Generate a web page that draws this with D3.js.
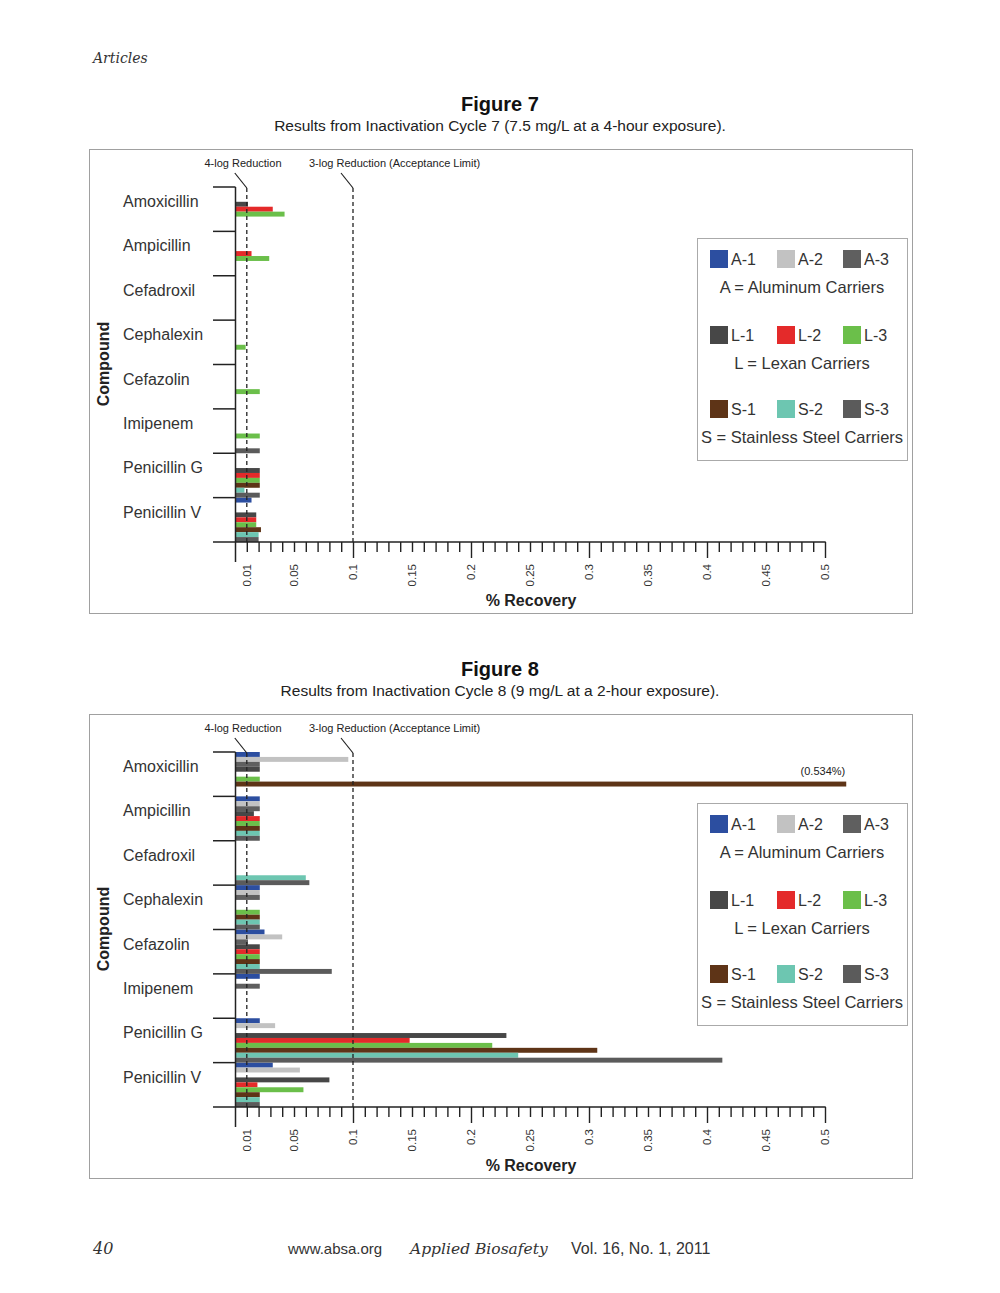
<!DOCTYPE html>
<html lang="en">
<head>
  <meta charset="UTF-8">
  <title>Figures 7 and 8 - % Recovery</title>
  <!--Import d3-->
  <script src="https://d3js.org/d3.v7.min.js"></script>
</head>
<style>
  body{
    margin:0;
    background:white;
  }
  .sans{
    font-family: "Liberation Sans", Arial, Helvetica, sans-serif;
  }
  .serif{
    font-family: "DejaVu Serif", "Liberation Serif", serif;
    font-style: italic;
  }
</style>
<body>
  <div id="page"></div>
</body>
<script>
// categories (top to bottom)
var compounds = ["Amoxicillin", "Ampicillin", "Cefadroxil", "Cephalexin",
                 "Cefazolin", "Imipenem", "Penicillin G", "Penicillin V"];

// series, in the order the bars are stacked inside a compound
var series = ["A-1", "A-2", "A-3", "L-1", "L-2", "L-3", "S-1", "S-2", "S-3"];
var seriesColours = ["#2c4ea0", "#c2c2c2", "#5f5f5f", "#474747", "#e42a2a",
                     "#6bbf4a", "#5e3417", "#6dc6b1", "#5b5b5b"];

// legend groups
var legendGroups = ["A = Aluminum Carriers", "L = Lexan Carriers", "S = Stainless Steel Carriers"];

// x tick labels
var tickLabels = [0.01, 0.05, 0.1, 0.15, 0.2, 0.25, 0.3, 0.35, 0.4, 0.45, 0.5];

// % recovery, one row per series, one value per compound (null = no bar)
var n = null;
var fig7Values = [
  [n, n, n, n, n, n, n, 0.014],                               // A-1
  [n, n, n, n, n, n, n, n],                                   // A-2
  [n, n, n, n, n, n, n, n],                                   // A-3
  [0.011, n, n, n, n, n, 0.021, 0.018],                       // L-1
  [0.032, 0.014, n, n, n, n, 0.021, 0.018],                   // L-2
  [0.042, 0.029, n, 0.009, 0.021, 0.021, 0.021, 0.018],       // L-3
  [n, n, n, n, n, n, 0.021, 0.022],                           // S-1
  [n, n, n, n, n, n, 0.008, 0.020],                           // S-2
  [n, n, n, n, n, 0.021, 0.021, 0.020]                        // S-3
];
var fig8Values = [
  [0.021, 0.021, n, 0.021, 0.025, 0.021, 0.021, 0.032],       // A-1
  [0.096, 0.021, n, 0.021, 0.040, n, 0.034, 0.055],           // A-2
  [0.021, 0.021, n, 0.021, 0.011, 0.021, n, n],               // A-3
  [0.021, 0.016, n, n, 0.021, n, 0.230, 0.080],               // L-1
  [n, 0.021, n, n, 0.021, n, 0.148, 0.019],                   // L-2
  [0.021, 0.021, n, 0.021, 0.021, n, 0.218, 0.058],           // L-3
  [0.534, 0.021, n, 0.021, 0.021, n, 0.307, 0.021],           // S-1
  [n, 0.021, 0.060, 0.021, 0.021, n, 0.240, 0.021],           // S-2
  [n, 0.021, 0.063, 0.021, 0.082, n, 0.413, 0.021]            // S-3
];

// reference lines
var fourLog = 0.01;
var threeLog = 0.1;

// the plot area is cut at the frame edge, longer bars get a value label
var clipMax = 0.518;

// Create the SVG space
var svg = d3.select("#page").append("svg")
  .attr("width", 1000)
  .attr("height", 1293);

// page header and footer
svg.append("text").attr("class", "serif")
  .attr("x", 93).attr("y", 63)
  .attr("font-size", 14).attr("fill", "#333")
  .text("Articles");

svg.append("text").attr("class", "serif")
  .attr("x", 93).attr("y", 1254)
  .attr("font-size", 16).attr("fill", "#333")
  .text("40");
svg.append("text").attr("class", "sans")
  .attr("x", 288).attr("y", 1254)
  .attr("font-size", 15).attr("fill", "#333")
  .text("www.absa.org");
svg.append("text").attr("class", "serif")
  .attr("x", 410).attr("y", 1254)
  .attr("font-size", 15.5).attr("fill", "#333")
  .text("Applied Biosafety");
svg.append("text").attr("class", "sans")
  .attr("x", 571).attr("y", 1254)
  .attr("font-size", 16).attr("fill", "#333")
  .text("Vol. 16, No. 1, 2011");

function drawFigure(top, title, subtitle, values, note){
  // titles above the frame
  svg.append("text").attr("class", "sans")
    .attr("x", 500).attr("y", top - 38)
    .attr("text-anchor", "middle")
    .attr("font-size", 20).attr("font-weight", "bold").attr("fill", "#111")
    .text(title);
  svg.append("text").attr("class", "sans")
    .attr("x", 500).attr("y", top - 18)
    .attr("text-anchor", "middle")
    .attr("font-size", 15.5).attr("fill", "#222")
    .text(subtitle);

  // frame
  svg.append("rect")
    .attr("x", 89.5).attr("y", top + 0.5)
    .attr("width", 823).attr("height", 464)
    .attr("fill", "none").attr("stroke", "#a0a0a0");

  var g = svg.append("g").attr("class", "sans");

  var plotTop = top + 38;
  var plotBottom = plotTop + 355;

  // scales
  var xScale = d3.scaleLinear().domain([0, 0.5]).range([235, 825]);
  var yScale = d3.scaleBand().domain(compounds).range([plotTop, plotBottom]);
  var ySub = d3.scaleBand().domain(series).range([0, yScale.bandwidth()]);

  // bars
  series.forEach(function(s, si){
    g.selectAll(null)
      .data(compounds.map(function(c, ci){ return {c: c, v: values[si][ci]}; })
                     .filter(function(d){ return d.v != null; }))
      .enter()
      .append("rect")
        .attr("x", xScale(0))
        .attr("y", function(d){ return yScale(d.c) + ySub(s); })
        .attr("width", function(d){ return xScale(Math.min(d.v, clipMax)) - xScale(0); })
        .attr("height", ySub.bandwidth())
        .attr("fill", seriesColours[si]);
  });

  // value label for the bar that runs off the plot
  if (note){
    g.append("text")
      .attr("x", xScale(clipMax) - 1)
      .attr("y", yScale(note.compound) + ySub(note.series) - 7)
      .attr("text-anchor", "end")
      .attr("font-size", 11).attr("fill", "#222")
      .text("(" + note.value + "%)");
  }

  // y axis line and compound separators
  g.append("line")
    .attr("x1", 235.5).attr("x2", 235.5)
    .attr("y1", plotTop).attr("y2", plotBottom + 20)
    .attr("stroke", "#222").attr("stroke-width", 1.5);
  g.selectAll(null)
    .data(compounds)
    .enter()
    .append("line")
      .attr("x1", 213).attr("x2", 235.5)
      .attr("y1", function(d){ return yScale(d); })
      .attr("y2", function(d){ return yScale(d); })
      .attr("stroke", "#222").attr("stroke-width", 1.5);

  // compound labels
  g.selectAll(null)
    .data(compounds)
    .enter()
    .append("text")
      .attr("x", 123)
      .attr("y", function(d){ return yScale(d) + 20; })
      .attr("font-size", 16).attr("fill", "#333")
      .text(function(d){ return d; });

  // x axis with a tick every 0.01, longer ticks at each 0.1
  var xAxis = d3.axisBottom(xScale)
    .tickValues(d3.range(1, 51).map(function(i){ return i / 100; }))
    .tickSize(10)
    .tickFormat("");
  var axisG = g.append("g")
    .attr("transform", "translate(0," + plotBottom + ")")
    .call(xAxis);
  axisG.select(".domain").remove();
  axisG.selectAll(".tick line")
    .attr("stroke", "#222").attr("stroke-width", 1.4)
    .attr("y2", function(d){ return (Math.round(d * 100) % 10 == 0) ? 16 : 10; });
  g.append("line")
    .attr("x1", 213).attr("x2", xScale(0.5) + 0.7)
    .attr("y1", plotBottom).attr("y2", plotBottom)
    .attr("stroke", "#222").attr("stroke-width", 1.5);

  // rotated tick labels
  g.selectAll(null)
    .data(tickLabels)
    .enter()
    .append("text")
      .attr("transform", function(d){
        return "translate(" + xScale(d) + "," + (plotBottom + 22) + ") rotate(-90)";
      })
      .attr("dy", "0.35em")
      .attr("text-anchor", "end")
      .attr("font-size", 11.5).attr("fill", "#333")
      .text(function(d){ return d; });

  // axis titles
  g.append("text")
    .attr("x", 531).attr("y", top + 457)
    .attr("text-anchor", "middle")
    .attr("font-size", 16).attr("font-weight", "bold").attr("fill", "#222")
    .text("% Recovery");
  g.append("text")
    .attr("transform", "translate(109," + (plotTop + 177) + ") rotate(-90)")
    .attr("text-anchor", "middle")
    .attr("font-size", 16).attr("font-weight", "bold").attr("fill", "#222")
    .text("Compound");

  // reduction lines with their leaders and labels
  [fourLog, threeLog].forEach(function(v, i){
    var x = xScale(v);
    g.append("line")
      .attr("x1", x).attr("x2", x)
      .attr("y1", plotTop + 1).attr("y2", plotBottom)
      .attr("stroke", "#222").attr("stroke-width", 1.3)
      .attr("stroke-dasharray", "4,3");
    g.append("line")
      .attr("x1", x - 12).attr("x2", x)
      .attr("y1", plotTop - 14).attr("y2", plotTop + 1)
      .attr("stroke", "#222").attr("stroke-width", 1.2);
  });
  g.append("text")
    .attr("x", 243).attr("y", top + 18)
    .attr("text-anchor", "middle")
    .attr("font-size", 11).attr("fill", "#222")
    .text("4-log Reduction");
  g.append("text")
    .attr("x", 309).attr("y", top + 18)
    .attr("font-size", 11).attr("fill", "#222")
    .text("3-log Reduction (Acceptance Limit)");

  // legend
  var lx = 697, ly = top + 89;
  g.append("rect")
    .attr("x", lx + 0.5).attr("y", ly + 0.5)
    .attr("width", 210).attr("height", 222)
    .attr("fill", "white").attr("stroke", "#aaa");
  var colX = [710, 777, 843];
  var rowY = [ly + 12, ly + 88, ly + 162];
  series.forEach(function(s, si){
    var row = Math.floor(si / 3), col = si % 3;
    g.append("rect")
      .attr("x", colX[col]).attr("y", rowY[row])
      .attr("width", 18).attr("height", 18)
      .attr("fill", seriesColours[si]);
    g.append("text")
      .attr("x", colX[col] + 21).attr("y", rowY[row] + 15)
      .attr("font-size", 16).attr("fill", "#333")
      .text(s);
  });
  legendGroups.forEach(function(t, i){
    g.append("text")
      .attr("x", lx + 105).attr("y", rowY[i] + 43)
      .attr("text-anchor", "middle")
      .attr("font-size", 16.5).attr("fill", "#333")
      .text(t);
  });
}

drawFigure(149, "Figure 7", "Results from Inactivation Cycle 7 (7.5 mg/L at a 4-hour exposure).", fig7Values, null);
drawFigure(714, "Figure 8", "Results from Inactivation Cycle 8 (9 mg/L at a 2-hour exposure).", fig8Values,
  {compound: "Amoxicillin", series: "S-1", value: fig8Values[6][0]});
</script>
</html>
